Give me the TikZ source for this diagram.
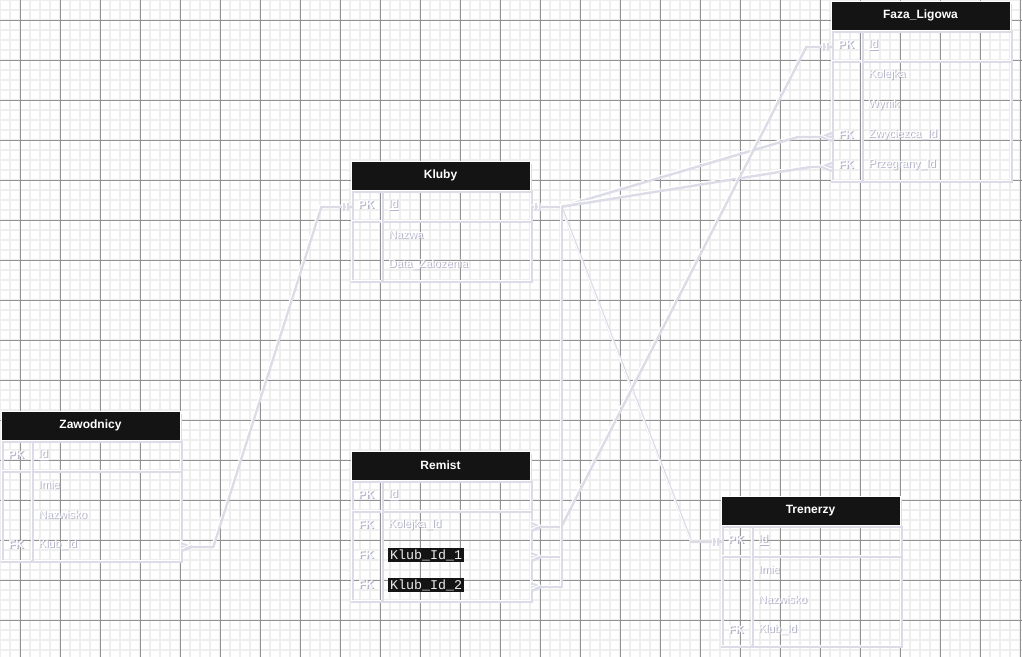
\documentclass[tikz,border=0pt]{standalone}
\usepackage{fontspec}
\setmainfont{Liberation Sans}
\setmonofont{Liberation Mono}
\usepackage{xcolor}
\usetikzlibrary{positioning,calc}
\definecolor{hdrfill}{HTML}{141414}
\definecolor{shade}{HTML}{B4B4CA}
\definecolor{lineshade}{HTML}{DCDCE8}
\definecolor{minorgrid}{HTML}{EEEEEE}
\definecolor{majorgrid}{HTML}{929292}
\newcommand{\shd}[1]{\makebox[0pt][l]{\raisebox{-1pt}{\hspace{1pt}\textcolor{shade}{#1}}}#1}
\tikzset{
	hdr/.style={fill=hdrfill, draw=white, line width=0.6pt, text=white, font=\bfseries\fontsize{9}{10}\selectfont,
		minimum width=179*0.75pt, minimum height=29*0.75pt, inner sep=0pt,
		preaction={fill=lineshade, transform canvas={shift={(1.5pt,-2pt)}}}},
	rowbox/.style={minimum width=179*0.75pt, minimum height=30*0.75pt, inner sep=0pt},
	keytxt/.style={text=white, font=\bfseries\fontsize{8.5}{10}\selectfont, inner sep=0pt},
	fldtxt/.style={text=white, font=\fontsize{8.5}{10}\selectfont, inner sep=0pt, anchor=west},
	monofld/.style={fill=hdrfill, text=white!92!black, font=\ttfamily\fontsize{10}{11}\selectfont, inner sep=1.3pt, anchor=west},
	frame/.style={draw=white, line width=0.75pt, preaction={draw=lineshade, line width=1.8pt, transform canvas={shift={(1.2pt,-1.6pt)}}}},
	rel/.style={draw=white, line width=0.75pt, line join=round, preaction={draw=lineshade, line width=1.8pt, transform canvas={shift={(1pt,-1.4pt)}}}}
}
\begin{document}
\begin{tikzpicture}[x=0.75pt,y=-0.75pt]
	\useasboundingbox (0,0) rectangle (1022,657);
	% grid
	\fill[white] (0,0) rectangle (1022,657);
	\foreach \x in {0,10,...,1020} \draw[minorgrid, line width=1.1pt] (\x,0) -- (\x,657);
	\foreach \y in {0,10,...,650} \draw[minorgrid, line width=1.1pt] (0,\y) -- (1022,\y);
	\foreach \x in {20,60,...,1020} \draw[majorgrid, line width=0.7pt] (\x,0) -- (\x,657);
	\foreach \y in {20,60,...,620} \draw[majorgrid, line width=0.7pt] (0,\y) -- (1022,\y);
	
	% Kluby
	\draw[frame] (351,190) rectangle (530,280);
	\draw[frame] (351,220) -- (530,220);
	\draw[frame] (381,190) -- (381,280);
	\node[hdr] (kluby) at (440.5,175.5) {Kluby};
	\foreach \nm/\k/\f [count=\i] in {id/PK/\underline{Id},nazwa//Nazwa,data//Data\_Zalozenia}{
		\node[rowbox] (kluby-\nm) at (440.5,175+30*\i) {};
		\node[keytxt] (kluby-\nm-k) at (366,175+30*\i) {\shd{\k}};
		\node[fldtxt] (kluby-\nm-f) at (388,175+30*\i) {\shd{\f}};
	}
	
	% Zawodnicy
	\draw[frame] (1,440) rectangle (180,560);
	\draw[frame] (1,470) -- (180,470);
	\draw[frame] (31,440) -- (31,560);
	\node[hdr] (zaw) at (90.5,425.5) {Zawodnicy};
	\foreach \nm/\k/\f [count=\i] in {id/PK/\underline{Id},imie//Imie,nazw//Nazwisko,klub/FK/Klub\_Id}{
		\node[rowbox] (zaw-\nm) at (90.5,425+30*\i) {};
		\node[keytxt] (zaw-\nm-k) at (16,425+30*\i) {\shd{\k}};
		\node[fldtxt] (zaw-\nm-f) at (38,425+30*\i) {\shd{\f}};
	}
	
	% Remist
	\draw[frame] (351,480) rectangle (530,600);
	\draw[frame] (351,510) -- (530,510);
	\draw[frame] (381,480) -- (381,600);
	\node[hdr] (rem) at (440.5,465.5) {Remist};
	\foreach \nm/\k [count=\i] in {id/PK,kol/FK,k1/FK,k2/FK}{
		\node[rowbox] (rem-\nm) at (440.5,465+30*\i) {};
		\node[keytxt] (rem-\nm-k) at (366,465+30*\i) {\shd{\k}};
	}
	\node[fldtxt] (rem-id-f) at (388,495) {\shd{\underline{Id}}};
	\node[fldtxt] (rem-kol-f) at (388,525) {\shd{Kolejka\_Id}};
	\node[monofld] (rem-k1-f) at (388,555) {Klub\_Id\_1};
	\node[monofld] (rem-k2-f) at (388,585) {Klub\_Id\_2};
	
	% Trenerzy
	\draw[frame] (721,525) rectangle (900,645);
	\draw[frame] (721,555) -- (900,555);
	\draw[frame] (751,525) -- (751,645);
	\node[hdr] (tren) at (810.5,510.5) {Trenerzy};
	\foreach \nm/\k/\f [count=\i] in {id/PK/\underline{Id},imie//Imie,nazw//Nazwisko,klub/FK/Klub\_Id}{
		\node[rowbox] (tren-\nm) at (810.5,510+30*\i) {};
		\node[keytxt] (tren-\nm-k) at (736,510+30*\i) {\shd{\k}};
		\node[fldtxt] (tren-\nm-f) at (758,510+30*\i) {\shd{\f}};
	}
	
	% Faza_Ligowa
	\draw[frame] (831,30) rectangle (1010,180);
	\draw[frame] (831,60) -- (1010,60);
	\draw[frame] (861,30) -- (861,180);
	\node[hdr] (faza) at (920.5,15.5) {Faza\_Ligowa};
	\foreach \nm/\k/\f [count=\i] in {id/PK/\underline{Id},kol//Kolejka,wyn//Wynik,zw/FK/Zwyciezca\_Id,prz/FK/Przegrany\_Id}{
		\node[rowbox] (faza-\nm) at (920.5,15+30*\i) {};
		\node[keytxt] (faza-\nm-k) at (846,15+30*\i) {\shd{\k}};
		\node[fldtxt] (faza-\nm-f) at (868,15+30*\i) {\shd{\f}};
	}
	
	% relations
	\coordinate (hub) at (560,205);
	\draw[rel] (kluby-id.east) -- (hub) -- (797,135) -- (faza-zw.west);
	\draw[rel] (hub) -- (810,165) -- (faza-prz.west);
	\draw[rel] (hub) -- (690,540) -- (tren-id.west);
	\draw[rel] (kluby-id.west) -- (320,205) -- (212,545) -- (zaw-klub.east);
	\draw[rel] (rem-kol.east) -- (560,525) -- (805,45) -- (faza-id.west);
	\draw[rel] (rem-k1.east) -- (560,555) -- (hub);
	\draw[rel] (rem-k2.east) -- (560,585) -- (560,555);
	
	% one: ||
	\draw[rel] (kluby-id.east) ++(4,-4) -- ++(0,8) ++(4,0) -- ++(0,-8);
	\draw[rel] (kluby-id.west) ++(-4,-4) -- ++(0,8) ++(-4,0) -- ++(0,-8);
	\draw[rel] (tren-id.west) ++(-4,-4) -- ++(0,8) ++(-4,0) -- ++(0,-8);
	\draw[rel] (faza-id.west) ++(-4,-4) -- ++(0,8) ++(-4,0) -- ++(0,-8);
	% many: crow's foot
	\draw[rel] (faza-zw.west) ++(-10,0) -- ++(10,-4) ++(-10,4) -- ++(10,4);
	\draw[rel] (faza-prz.west) ++(-10,0) -- ++(10,-4) ++(-10,4) -- ++(10,4);
	\draw[rel] (zaw-klub.east) ++(10,0) -- ++(-10,-4) ++(10,4) -- ++(-10,4);
	\draw[rel] (rem-kol.east) ++(10,0) -- ++(-10,-4) ++(10,4) -- ++(-10,4);
	\draw[rel] (rem-k1.east) ++(10,0) -- ++(-10,-4) ++(10,4) -- ++(-10,4);
	\draw[rel] (rem-k2.east) ++(10,0) -- ++(-10,-4) ++(10,4) -- ++(-10,4);
\end{tikzpicture}
\end{document}
